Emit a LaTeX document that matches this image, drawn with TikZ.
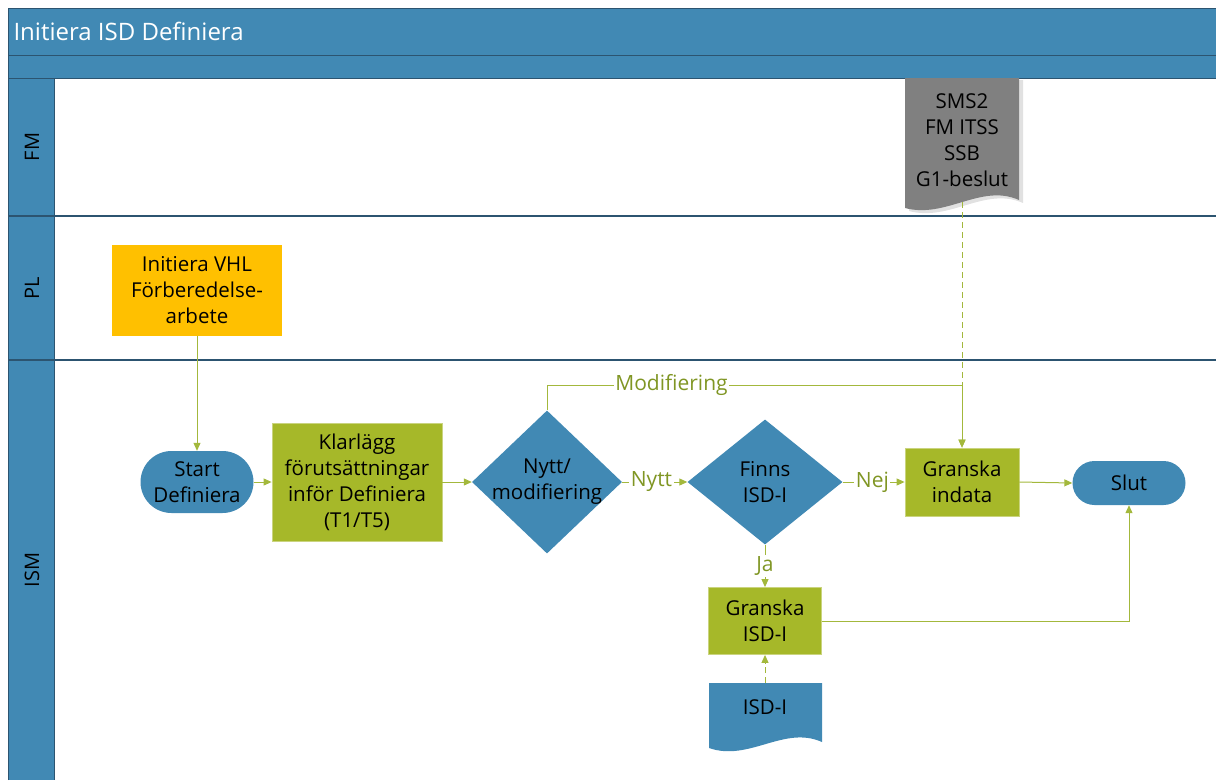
\documentclass[tikz,border=0pt]{standalone}
\usepackage{fontspec}
\setmainfont{Open Sans}
\usetikzlibrary{arrows.meta,shapes.geometric,calc}
\definecolor{laneblue}{RGB}{65,137,180}
\definecolor{laneline}{RGB}{44,84,112}
\definecolor{actgreen}{RGB}{166,184,41}
\definecolor{linkgreen}{RGB}{163,184,60}
\definecolor{labgreen}{RGB}{128,150,36}
\definecolor{prepyellow}{RGB}{255,192,0}
\definecolor{docgray}{RGB}{128,128,128}
\definecolor{shadowgray}{RGB}{225,225,225}
\tikzset{
  txt/.style={font=\fontsize{20.5}{26}\selectfont, align=center, text=black},
  activity/.style={txt, fill=actgreen, draw=actgreen!60!white, line width=0.8pt, inner sep=0pt},
  prep/.style={txt, fill=prepyellow, inner sep=0pt},
  terminal/.style={txt, fill=laneblue, inner sep=0pt},
  decision/.style={diamond, fill=laneblue, inner sep=0pt},
  link/.style={draw=linkgreen, line width=1pt, -{Triangle[length=8pt,width=7pt]}},
  dashlink/.style={link, dash pattern=on 6pt off 4pt},
  elabel/.style={font=\fontsize{21}{24}\selectfont, text=labgreen, fill=white, inner sep=1.5pt},
  lanelabel/.style={font=\fontsize{20}{22}\selectfont, rotate=90, text=black},
}
\begin{document}
\begin{tikzpicture}[x=1pt,y=-1pt]
\useasboundingbox (0,0) rectangle (1216,780);

% pool header and lane column
\fill[laneblue] (8,8) rectangle (1216,78);
\fill[laneblue] (8,78) rectangle (54,780);
\draw[laneline, line width=1pt] (8,780) -- (8,8) -- (1216,8);
\draw[laneline, line width=1pt] (8,55) -- (1216,55);
\draw[laneline, line width=1pt] (8,78) -- (1216,78);
\draw[laneline, line width=1pt] (54,78) -- (54,780);
\draw[laneline, line width=1.2pt] (8,216) -- (1216,216);
\draw[laneline, line width=1.2pt] (8,360) -- (1216,360);
\node[anchor=west, text=white, font=\fontsize{24}{26}\selectfont] (title) at (10,31) {Initiera ISD Definiera};

% lane names
\node[lanelabel] (lfm) at (32,147) {FM};
\node[lanelabel] (lpl) at (32,288) {PL};
\node[lanelabel] (lism) at (32,570) {ISM};

% document: SMS2 / FM ITSS / SSB / G1-beslut
\fill[shadowgray] (909,80) -- (1023,80) -- (1023,203)
  .. controls (985,186) and (950,222) .. (909,211) -- cycle;
\fill[docgray] (905,78) -- (1019,78) -- (1019,200)
  .. controls (981,183) and (946,219) .. (905,208) -- cycle;
\node[txt, inner sep=0pt] (sms) at (962,140)
  {SMS2\\FM ITSS\\SSB\\G1-beslut};
\coordinate (smsbot) at (962,202);

% document: ISD-I
\fill[laneblue] (709,683) -- (822,683) -- (822,742)
  .. controls (784,725) and (749,762) .. (709,748) -- cycle;
\node[txt, inner sep=0pt] (isddoc) at (765,707) {ISD-I};
\coordinate (isdtop) at (765,683);

% activities
\node[prep, minimum width=170pt, minimum height=91pt] (vhl) at (197,290)
  {Initiera VHL\\Förberedelse-\\arbete};
\node[terminal, rounded corners=31pt, minimum width=113pt, minimum height=62pt] (start) at (197,482)
  {Start\\Definiera};
\node[activity, minimum width=170pt, minimum height=118pt] (klar) at (357,482)
  {Klarlägg\\förutsättningar\\inför Definiera\\(T1/T5)};
\node[decision, minimum width=150pt, minimum height=143pt] (nytt) at (547,482) {};
\node[txt] (nyttxt) at (nytt.center) {Nytt/\\modifiering};
\node[decision, minimum width=155pt, minimum height=125pt] (finns) at (765,482) {};
\node[txt] (finnstxt) at (finns.center) {Finns\\ISD-I};
\node[activity, minimum width=114pt, minimum height=68pt] (indata) at (962,482)
  {Granska\\indata};
\node[terminal, rounded corners=22pt, minimum width=113pt, minimum height=44pt] (slut) at (1129,483)
  {Slut};
\node[activity, minimum width=113pt, minimum height=67pt] (isdg) at (765,621)
  {Granska\\ISD-I};

% connectors
\draw[link] (vhl.south) -- (start.north);
\draw[link] (start.east) -- (klar.west);
\draw[link] (klar.east) -- (nytt.west);
\draw[link] (nytt.east) -- node[elabel, pos=0.45] {Nytt} (finns.west);
\draw[link] (finns.east) -- node[elabel, pos=0.48] {Nej} (indata.west);
\draw[link] (nytt.north) -- ++(0,-25) coordinate (m1)
  -- node[elabel, pos=0.3] {Modifiering} (m1 -| indata.north) -- (indata.north);
\draw[dashlink] (smsbot) -- (indata.north);
\draw[link] (indata.east) -- (slut.west);
\draw[link] (finns.south) -- node[elabel, pos=0.5] {Ja} (isdg.north);
\draw[link] (isdg.east) -| (slut.south);
\draw[dashlink] (isdtop) -- (isdg.south);
\end{tikzpicture}
\end{document}
